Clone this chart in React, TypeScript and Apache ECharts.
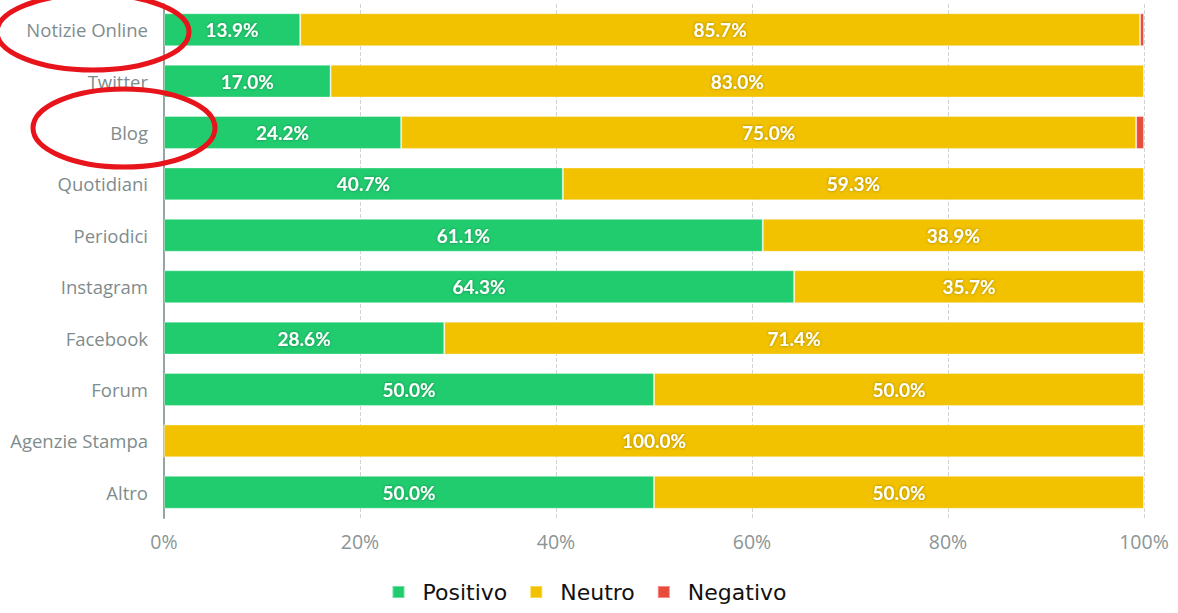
import React, { useEffect, useRef } from "react";
import * as echarts from "echarts";

const categories = [
  "Notizie Online",
  "Twitter",
  "Blog",
  "Quotidiani",
  "Periodici",
  "Instagram",
  "Facebook",
  "Forum",
  "Agenzie Stampa",
  "Altro",
];
const positivo = [13.9, 17.0, 24.2, 40.7, 61.1, 64.3, 28.6, 50.0, 0, 50.0];
const neutro = [85.7, 83.0, 75.0, 59.3, 38.9, 35.7, 71.4, 50.0, 100.0, 50.0];
const negativo = [0.4, 0, 0.8, 0, 0, 0, 0, 0, 0, 0];
const seriesNames = ["Positivo", "Neutro", "Negativo"];
const colors = ["#21cc6f", "#f2c200", "#e74c3c"];

export default function App() {
  const ref = useRef<HTMLDivElement>(null);
  useEffect(() => {
    if (!ref.current) return;
    const chart = echarts.init(ref.current, null, { renderer: "svg" });
    const label = {
      show: true,
      position: "inside",
      color: "#ffffff",
      fontFamily: "Lato",
      fontWeight: "bold",
      fontSize: 19,
      textShadowColor: "rgba(0,0,0,0.35)",
      textShadowBlur: 3,
      formatter: (p: any) => (p.value >= 5 ? Number(p.value).toFixed(1) + "%" : ""),
    };
    const datas = [positivo, neutro, negativo];
    chart.setOption({
      animation: false,
      color: colors,
      grid: { left: 164, right: 34, top: 4, height: 514, containLabel: false },
      legend: {
        bottom: 5,
        left: "center",
        icon: "rect",
        itemWidth: 12,
        itemHeight: 12,
        itemGap: 22,
        textStyle: {
          fontFamily: "DejaVu Sans",
          fontSize: 22,
          color: "#111111",
          padding: [0, 0, 0, 13],
        },
        data: seriesNames,
      },
      xAxis: {
        type: "value",
        min: 0,
        max: 100,
        interval: 20,
        axisLine: { show: false },
        axisTick: { show: false },
        splitLine: { show: true, lineStyle: { color: "#cfd3d4", type: "dashed", width: 1 } },
        axisLabel: {
          formatter: "{value}%",
          color: "#8a9596",
          fontFamily: "Open Sans",
          fontSize: 19.5,
          margin: 13,
        },
      },
      yAxis: {
        type: "category",
        inverse: true,
        data: categories,
        axisLine: { show: true, lineStyle: { color: "#95a5a6", width: 2 } },
        axisTick: { show: false },
        axisLabel: {
          color: "#7f8c8d",
          fontFamily: "Open Sans",
          fontSize: 18.5,
          margin: 16,
        },
      },
      series: seriesNames.map((name, i) => ({
        name,
        type: "bar",
        stack: "total",
        barWidth: "64%",
        data: datas[i],
        label,
        itemStyle: { color: colors[i], borderColor: "rgba(255,255,255,0.35)", borderWidth: 1 },
      })),
      graphic: [
        {
          type: "ellipse",
          z: 100,
          shape: { cx: 93, cy: 32, rx: 96, ry: 38 },
          style: { fill: "none", stroke: "#e8141b", lineWidth: 5 },
        },
        {
          type: "ellipse",
          z: 100,
          shape: { cx: 124, cy: 128, rx: 91, ry: 39 },
          style: { fill: "none", stroke: "#e8141b", lineWidth: 5 },
        },
      ],
    });
    return () => chart.dispose();
  }, []);
  return (
    <div
      ref={ref}
      style={{ position: "absolute", left: 0, top: 0, width: 1178, height: 613 }}
    />
  );
}
